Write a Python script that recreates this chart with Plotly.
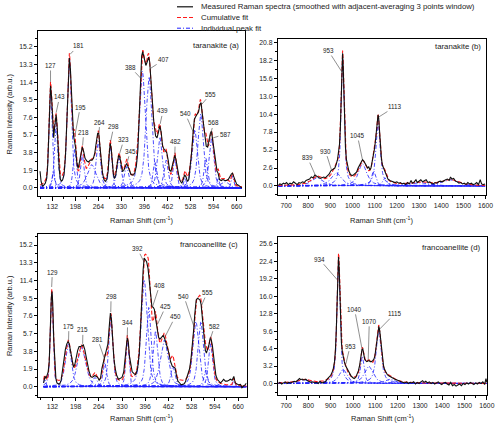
import numpy as np
import plotly.graph_objects as go

FONT = "Liberation Sans, Arial, sans-serif"
BLACK, RED, BLUE = "#111111", "#ff1a1a", "#2020ff"

# measured spectra (smoothed)
a_shift = [97, 100, 104, 108, 112, 116, 119, 122, 125, 127, 130, 133, 136, 139, 143, 146, 149, 152, 155, 158,
           162, 166, 170, 174, 177, 181, 184, 187, 190, 193, 196, 199, 202, 206, 210, 214, 218, 222, 226, 231,
           236, 241, 246, 250, 254, 258, 262, 265, 268, 272, 276, 280, 284, 288, 292, 295, 298, 301, 304, 307,
           310, 314, 318, 322, 325, 329, 333, 337, 341, 345, 349, 353, 357, 361, 365, 369, 373, 377, 381, 385,
           388, 391, 394, 397, 400, 404, 408, 411, 414, 418, 423, 428, 432, 436, 440, 444, 448, 452, 456, 460,
           464, 468, 472, 476, 480, 483, 486, 490, 494, 498, 503, 507, 511, 515, 519, 523, 527, 531, 535, 539,
           543, 547, 551, 555, 558, 561, 565, 569, 573, 577, 581, 585, 588, 592, 596, 600, 604, 607, 611, 616,
           621, 626, 631, 636, 641, 645, 648, 651, 655, 660, 665, 670, 675]
a_int = [1.8, 0.7, 0.2, 0.3, 0.5, 1.0, 2.5, 5.5, 9.5, 11.0, 9.8, 6.8, 5.4, 6.6, 7.9, 6.6, 4.0, 2.0, 1.0, 0.7,
         0.9, 1.5, 3.6, 7.5, 11.0, 14.0, 12.8, 9.8, 7.0, 5.6, 5.0, 4.3, 2.8, 2.1, 2.8, 3.9, 4.4, 3.9, 3.2, 2.9,
         2.8, 3.0, 3.0, 3.2, 3.8, 4.9, 5.9, 5.9, 4.8, 3.0, 1.6, 0.9, 0.7, 0.9, 1.8, 3.6, 4.8, 4.2, 2.6, 1.5,
         1.0, 1.4, 2.6, 3.5, 3.4, 2.4, 1.75, 1.9, 2.3, 2.65, 2.3, 1.8, 1.5, 1.4, 1.4, 1.7, 2.4, 4.0, 7.2, 11.5,
         14.2, 14.7, 14.1, 13.5, 13.2, 13.6, 14.1, 13.6, 12.0, 10.0, 7.0, 5.6, 5.4, 6.0, 6.7, 6.0, 4.5, 4.2, 4.0, 3.8,
         3.0, 1.9, 1.8, 2.4, 3.3, 3.5, 3.1, 2.1, 1.4, 0.8, 0.5, 0.9, 1.4, 1.2, 0.7, 0.9, 2.2, 3.8, 5.8, 7.4,
         7.7, 7.9, 8.2, 9.0, 9.2, 8.2, 6.8, 5.4, 4.5, 4.4, 5.3, 5.9, 6.1, 5.0, 3.5, 2.4, 1.8, 1.6, 0.9, 0.8,
         0.9, 0.8, 0.8, 0.9, 1.3, 1.5, 1.6, 1.3, 0.7, 0.4, 0.3, 0.1, 0.0]

b_shift = [665, 672, 680, 688, 695, 702, 710, 718, 726, 734, 742, 750, 758, 766, 774, 782, 790, 798, 806, 814,
           822, 830, 838, 846, 854, 862, 870, 878, 886, 894, 902, 908, 914, 920, 926, 932, 937, 941, 945, 949,
           952, 955, 958, 961, 964, 968, 972, 977, 983, 990, 997, 1004, 1011, 1018, 1025, 1032, 1039, 1045, 1051, 1057,
           1063, 1068, 1073, 1078, 1083, 1088, 1093, 1098, 1103, 1108, 1112, 1115, 1118, 1122, 1126, 1130, 1135, 1140, 1146, 1152,
           1160, 1168, 1176, 1184, 1192, 1200, 1208, 1216, 1224, 1232, 1240, 1248, 1256, 1264, 1270, 1278, 1286, 1292, 1300, 1308,
           1316, 1324, 1332, 1340, 1348, 1356, 1364, 1372, 1380, 1388, 1396, 1404, 1412, 1420, 1428, 1436, 1442, 1448, 1456, 1464,
           1472, 1480, 1488, 1496, 1504, 1512, 1520, 1528, 1536, 1544, 1552, 1560, 1568, 1576, 1582, 1590, 1598]
b_int = [0.1, 0.3, 0.2, 0.4, 0.3, 0.5, 0.2, 0.4, 0.3, 0.6, 0.4, 0.2, 0.5, 0.4, 0.6, 0.5, 0.8, 0.9, 1.0, 1.3,
         1.2, 1.6, 1.4, 1.3, 1.1, 1.2, 1.3, 1.2, 1.5, 1.7, 2.2, 2.3, 2.4, 2.6, 3.1, 3.8, 5.0, 6.0, 8.5, 13.5,
         17.4, 19.2, 17.1, 13.0, 9.0, 5.6, 3.9, 2.8, 2.2, 1.7, 1.5, 1.6, 1.8, 2.0, 2.6, 3.1, 3.6, 3.8, 3.6, 3.3,
         3.0, 2.6, 2.8, 2.3, 2.6, 3.3, 4.3, 5.2, 6.4, 8.3, 9.8, 10.3, 9.8, 7.8, 5.6, 4.0, 3.0, 2.6, 2.1, 1.5,
         1.0, 0.8, 0.7, 0.6, 0.5, 0.6, 0.4, 0.5, 0.3, 0.4, 0.2, 0.5, 0.3, 0.8, 0.4, 0.6, 0.9, 0.5, 0.7, 0.9,
         0.6, 0.8, 0.9, 0.5, 0.6, 0.4, 0.3, 0.5, 0.4, 0.6, 0.7, 0.6, 0.8, 0.9, 1.0, 0.8, 1.3, 1.0, 1.1, 0.7,
         0.6, 0.4, 0.5, 0.3, 0.4, 0.2, 0.5, 0.3, 0.4, 0.2, 0.3, 0.5, 0.2, 0.9, 0.3, 0.2, 0.3]

c_shift = [107, 109, 111, 114, 117, 120, 123, 126, 129, 131, 133, 136, 139, 142, 145, 149, 153, 157, 161, 165,
           169, 173, 177, 180, 184, 188, 192, 196, 200, 204, 208, 212, 216, 220, 224, 228, 232, 236, 241, 245,
           249, 253, 257, 261, 265, 269, 273, 277, 281, 286, 290, 294, 297, 300, 303, 307, 311, 315, 320, 325,
           330, 335, 339, 342, 345, 348, 351, 355, 359, 364, 369, 374, 379, 383, 386, 390, 393, 396, 400, 404,
           407, 411, 415, 419, 422, 426, 430, 434, 438, 442, 447, 451, 455, 459, 464, 468, 473, 477, 481, 485,
           489, 494, 498, 502, 506, 510, 514, 518, 522, 526, 530, 534, 537, 541, 545, 549, 552, 555, 559, 563,
           567, 570, 574, 578, 581, 584, 587, 590, 593, 597, 601, 606, 610, 615, 619, 624, 629, 634, 638, 643,
           648, 652, 657, 662, 667, 671, 676, 680, 684]
c_int = [0.4, 1.0, 1.1, 0.9, 1.3, 1.6, 2.6, 6.5, 9.5, 10.2, 9.0, 5.0, 2.0, 0.9, 0.4, 0.3, 0.3, 0.7, 1.8, 3.0,
         4.0, 4.6, 4.85, 4.6, 3.6, 2.6, 2.1, 2.4, 3.2, 3.9, 4.3, 4.3, 4.4, 4.5, 4.0, 3.1, 2.4, 1.7, 1.1, 1.0,
         1.1, 1.2, 1.1, 1.0, 0.7, 0.9, 2.0, 2.6, 3.3, 3.8, 4.6, 6.6, 7.9, 7.2, 5.2, 3.0, 1.9, 1.2, 0.8, 0.9,
         1.0, 1.6, 2.8, 4.2, 5.25, 4.8, 3.3, 2.2, 1.6, 1.4, 1.3, 1.9, 3.5, 6.5, 10.0, 12.5, 13.8, 13.6, 13.4, 12.7,
         11.7, 10.0, 8.6, 8.5, 8.3, 7.2, 6.2, 5.3, 5.1, 5.3, 5.5, 5.2, 4.8, 4.2, 3.5, 2.7, 2.2, 2.1, 2.0, 1.2,
         0.6, 0.4, 0.2, 0.25, 0.3, 0.5, 1.0, 1.3, 1.9, 2.9, 4.3, 6.2, 7.8, 9.3, 9.5, 9.4, 9.3, 8.8, 7.0, 5.2,
         3.9, 3.6, 4.0, 4.6, 5.25, 5.0, 4.4, 3.2, 2.0, 1.2, 0.8, 0.5, 0.4, 0.6, 0.8, 0.6, 0.6, 0.7, 0.8, 0.7,
         1.1, 0.4, 0.3, 0.2, 0.25, -0.1, 0.1, 0.2, 0.4]

d_shift = [665, 672, 680, 688, 696, 704, 712, 720, 728, 736, 744, 752, 760, 766, 772, 780, 788, 796, 804, 812,
           820, 828, 836, 844, 852, 860, 868, 876, 884, 892, 900, 906, 912, 917, 921, 925, 929, 932, 935, 938,
           941, 944, 948, 952, 956, 961, 966, 971, 977, 984, 991, 998, 1005, 1012, 1018, 1024, 1030, 1035, 1040, 1044,
           1048, 1052, 1057, 1062, 1067, 1072, 1077, 1082, 1088, 1093, 1098, 1103, 1108, 1112, 1116, 1120, 1124, 1128, 1132, 1137,
           1142, 1148, 1154, 1160, 1168, 1176, 1184, 1192, 1200, 1208, 1216, 1224, 1232, 1240, 1248, 1256, 1264, 1272, 1280, 1288,
           1296, 1304, 1312, 1318, 1326, 1334, 1342, 1350, 1358, 1366, 1374, 1382, 1390, 1398, 1406, 1414, 1422, 1430, 1438, 1446,
           1454, 1462, 1470, 1478, 1486, 1494, 1502, 1510, 1518, 1526, 1534, 1542, 1550, 1558, 1566, 1574, 1582, 1590, 1596, 1600]
d_int = [0.0, 0.2, -0.1, 0.1, 0.3, 0.0, 0.2, 0.1, 0.3, 0.4, 0.3, 0.6, 0.9, 0.7, 0.8, 0.6, 0.8, 0.5, 0.4, 0.2,
         0.3, 0.1, 0.2, 0.0, 0.4, 0.1, 0.2, 0.3, 0.8, 1.1, 1.5, 2.0, 2.8, 4.0, 6.0, 9.8, 16.0, 20.5, 23.2, 21.0,
         16.0, 11.5, 7.6, 5.8, 4.8, 4.0, 3.3, 2.9, 2.3, 1.8, 1.4, 1.1, 0.9, 1.1, 1.7, 2.3, 3.4, 4.9, 6.2, 6.3,
         5.3, 4.5, 4.2, 4.0, 4.1, 4.2, 4.0, 4.0, 4.2, 4.4, 5.0, 6.8, 8.8, 10.0, 10.5, 9.6, 7.9, 6.0, 4.6, 3.2,
         2.5, 1.9, 1.6, 1.4, 1.2, 1.1, 0.9, 0.7, 0.6, 0.4, 0.3, 0.2, 0.1, 0.3, 0.0, 0.2, 0.1, 0.3, -0.1, 0.2,
         0.0, 0.3, 0.5, 0.2, 0.4, 0.1, 0.3, 0.0, 0.2, -0.1, 0.1, 0.3, 0.0, -0.2, 0.1, 0.2, -0.1, -0.3, 0.2, -0.4,
         -0.2, -0.5, -0.3, -0.1, -0.4, 0.0, -0.2, 0.1, -0.1, 0.2, 0.0, -0.2, 0.1, -0.1, 0.2, 0.0, 0.3, -0.2, 0.9, 0.2]

# fitted peaks: centre (cm-1), height, FWHM
a_center = [127, 135, 143, 181, 196, 218, 245, 264, 298, 323, 345, 390, 409, 426, 440, 458, 483, 512, 540, 557, 572, 588, 607, 626, 648]
a_height = [10.6, 1.8, 7.0, 14.0, 4.2, 3.6, 2.5, 5.0, 4.6, 3.2, 2.3, 12.6, 12.0, 2.8, 5.5, 3.0, 3.2, 1.1, 6.3, 8.0, 3.2, 5.4, 1.1, 0.7, 1.3]
a_fwhm = [10, 8, 11, 14, 10, 12, 30, 14, 10, 15, 15, 20, 20, 12, 16, 14, 12, 8, 18, 18, 12, 16, 7, 28, 8]

b_center = [839, 927, 955, 1045, 1095, 1115, 1145, 1300, 1440]
b_height = [1.2, 1.9, 18.4, 3.2, 2.2, 9.6, 1.2, 0.5, 0.9]
b_fwhm = [60, 55, 16, 45, 20, 22, 20, 100, 90]

c_center = [110, 130, 177, 215, 253, 281, 298, 345, 393, 406, 425, 450, 475, 540, 554, 568, 582, 648]
c_height = [0.9, 10.3, 4.6, 4.2, 1.0, 2.6, 7.5, 5.0, 11.5, 8.5, 6.0, 5.0, 2.2, 7.0, 7.0, 1.8, 4.6, 0.8]
c_fwhm = [6, 9, 20, 28, 14, 12, 14, 10, 20, 16, 16, 26, 14, 20, 18, 12, 14, 6]

d_center = [775, 935, 955, 1041, 1070, 1115, 1165]
d_height = [0.7, 22.4, 2.6, 5.0, 3.2, 9.9, 0.8]
d_fwhm = [60, 16, 40, 18, 45, 26, 50]

# peak labels: text, pointed-at (x, y), label (x, y)
a_labels = [("127", 127, 11.4, 127, 13.2), ("143", 143, 8.1, 153, 9.8), ("181", 183, 14.4, 206, 15.3),
            ("195", 196, 5.5, 212, 8.7), ("218", 219, 4.6, 222, 6.0), ("264", 266, 6.0, 268, 7.1),
            ("298", 299, 5.0, 308, 6.6), ("323", 324, 3.6, 337, 5.2), ("345", 347, 2.8, 355, 3.95),
            ("388", 386, 11.8, 356, 13.0), ("407", 414, 12.9, 451, 13.8), ("439", 441, 6.9, 449, 8.3),
            ("482", 483, 3.6, 484, 5.0), ("540", 536, 6.0, 513, 8.0), ("555", 560, 9.0, 585, 10.1),
            ("568", 577, 4.6, 594, 7.0), ("587", 593, 5.4, 628, 5.8)]
b_labels = [("953", 952, 16.5, 890, 19.6), ("839", 833, 1.5, 797, 4.1), ("930", 905, 2.3, 878, 5.05),
            ("1045", 1044, 3.9, 1022, 7.3), ("1113", 1119, 10.0, 1193, 11.5)]
c_labels = [("129", 130, 10.7, 132, 12.3), ("175", 178, 4.95, 179, 6.5), ("215", 218, 4.6, 219, 6.1),
            ("281", 280, 3.0, 261, 5.1), ("298", 298, 8.0, 299, 9.7), ("344", 345, 5.35, 346, 6.9),
            ("392", 391, 13.5, 374, 14.8), ("408", 417, 8.6, 437, 10.9), ("425", 431, 6.7, 454, 8.6),
            ("450", 453, 5.4, 481, 7.5), ("540", 535, 6.4, 506, 9.7), ("555", 556, 8.7, 572, 10.1),
            ("582", 580, 5.0, 593, 6.5)]
d_labels = [("934", 930, 19.0, 849, 22.8), ("953", 968, 3.6, 987, 6.85), ("1040", 1040, 6.4, 1007, 13.6),
            ("1070", 1068, 4.3, 1073, 11.4), ("1115", 1120, 10.0, 1187, 12.8)]


def pseudo_voigt(x, c, h, w, eta):
    r = (x - c) / w
    return h * (eta / (1 + 4 * r ** 2) + (1 - eta) * np.exp(-4 * np.log(2) * r ** 2))


panels = [
    (a_shift, a_int, a_center, a_height, a_fwhm, 0.5, a_labels, ""),
    (b_shift, b_int, b_center, b_height, b_fwhm, 0.8, b_labels, "2"),
    (c_shift, c_int, c_center, c_height, c_fwhm, 0.5, c_labels, "3"),
    (d_shift, d_int, d_center, d_height, d_fwhm, 0.8, d_labels, "4"),
]

fig = go.Figure()
annotations = []
for shift, inten, cen, hgt, fw, eta, labels, ax in panels:
    xa, ya = "x" + ax, "y" + ax
    grid = np.arange(min(shift), max(shift) + 0.5, 1.0)
    total = np.zeros_like(grid)
    for c, h, w in zip(cen, hgt, fw):
        prof = pseudo_voigt(grid, c, h, w, eta)
        total += prof
        fig.add_trace(go.Scatter(x=grid, y=prof, mode="lines", xaxis=xa, yaxis=ya,
                                 line=dict(color=BLUE, width=0.8, dash="4px,2px,1px,2px"),
                                 showlegend=False, hoverinfo="skip"))
    fig.add_trace(go.Scatter(x=grid, y=total, mode="lines", xaxis=xa, yaxis=ya,
                             line=dict(color=RED, width=1.1, dash="4px,2px"), showlegend=False))
    fig.add_trace(go.Scatter(x=shift, y=inten, mode="lines", xaxis=xa, yaxis=ya,
                             line=dict(color=BLACK, width=1.1), showlegend=False))
    for text, px, py, tx, ty in labels:
        annotations.append(dict(x=px, y=py, ax=tx, ay=ty, xref=xa, yref=ya, axref=xa, ayref=ya,
                                text=text, showarrow=True, arrowhead=0, arrowwidth=0.6,
                                arrowcolor="#444444", standoff=0, startstandoff=0,
                                font=dict(size=6.3, color="#222222")))


def axis(domain, rng, tick0, dtick, minor, anchor, fmt=None):
    d = dict(domain=domain, range=rng, anchor=anchor, tickmode="linear", tick0=tick0, dtick=dtick,
             minor=dict(tick0=tick0, dtick=minor, ticks="outside", ticklen=2, tickwidth=0.7, tickcolor="black"),
             showline=True, linecolor="black", linewidth=1, mirror=True, ticks="outside", ticklen=3.5,
             tickwidth=0.8, tickcolor="black", tickfont=dict(size=6.8, color="#222222"),
             showgrid=False, zeroline=False, automargin=False)
    if fmt:
        d["tickformat"] = fmt
    return d


xa_dom, xb_dom = [0.0766, 0.490], [0.5566, 0.972]
xc_dom, xd_dom = [0.0766, 0.493], [0.5566, 0.9746]

fig.update_layout(
    width=500, height=429, margin=dict(l=0, r=0, t=0, b=0),
    paper_bgcolor="white", plot_bgcolor="white", showlegend=False,
    font=dict(family=FONT, color="#222222"),
    xaxis=axis(xa_dom, [92, 684], 132, 66, 33, "y"),
    yaxis=axis([0.5420, 0.9266], [-0.92, 16.86], 0, 1.9, 0.95, "x", ".1f"),
    xaxis2=axis(xb_dom, [665, 1602], 700, 100, 50, "y2"),
    yaxis2=axis([0.5455, 0.9091], [-1.3, 21.27], 0, 2.6, 1.3, "x2", ".1f"),
    xaxis3=axis(xc_dom, [92, 684], 132, 66, 33, "y3"),
    yaxis3=axis([0.0753, 0.4534], [-1.07, 16.33], 0, 1.9, 0.95, "x3", ".1f"),
    xaxis4=axis(xd_dom, [665, 1602], 700, 100, 50, "y4"),
    yaxis4=axis([0.0786, 0.4487], [-2.17, 26.97], 0, 3.2, 1.6, "x4", ".1f"),
)

# panel names
for name, x, y in [("taranakite (a)", 0.482, 0.895), ("taranakite (b)", 0.966, 0.891),
                   ("francoanellite (c)", 0.480, 0.429), ("francoanellite (d)", 0.964, 0.424)]:
    annotations.append(dict(x=x, y=y, xref="paper", yref="paper", text=name, showarrow=False,
                            xanchor="right", yanchor="middle", font=dict(size=7.8, color="#222222")))

# axis titles
xt = "Raman Shift (cm<sup>-1</sup>)"
for dom, y in [(xa_dom, 0.487), (xb_dom, 0.487), (xc_dom, 0.0268), (xd_dom, 0.0268)]:
    annotations.append(dict(x=(dom[0] + dom[1]) / 2, y=y, xref="paper", yref="paper", text=xt,
                            showarrow=False, xanchor="center", yanchor="middle",
                            font=dict(size=7.5, color="#222222")))
for y in [0.734, 0.264]:
    annotations.append(dict(x=0.0186, y=y, xref="paper", yref="paper", text="Raman Intensity (arb.u.)",
                            showarrow=False, textangle=-90, xanchor="center", yanchor="middle",
                            font=dict(size=7.5, color="#222222")))

# legend, drawn by hand at the top right
legend_items = [("Measured Raman spectra (smoothed with adjacent-averaging 3 points window)", BLACK, "solid", 1.2),
                ("Cumulative fit", RED, "4px,2px", 1.2),
                ("Individual peak fit", BLUE, "4px,2px,1px,2px", 1.0)]
shapes = []
for i, (text, color, dash, width) in enumerate(legend_items):
    y = 1 - (6.8 + 10.7 * i) / 429
    shapes.append(dict(type="line", xref="paper", yref="paper", x0=0.354, x1=0.386, y0=y, y1=y,
                       line=dict(color=color, width=width, dash=dash)))
    annotations.append(dict(x=0.398, y=y, xref="paper", yref="paper", text=text, showarrow=False,
                            xanchor="left", yanchor="middle", font=dict(size=7.8, color="#222222")))

fig.update_layout(annotations=annotations, shapes=shapes)
fig.write_html("out.html", config={"displayModeBar": False},
               post_script="document.body.style.margin='0px';document.body.style.overflow='hidden';")
